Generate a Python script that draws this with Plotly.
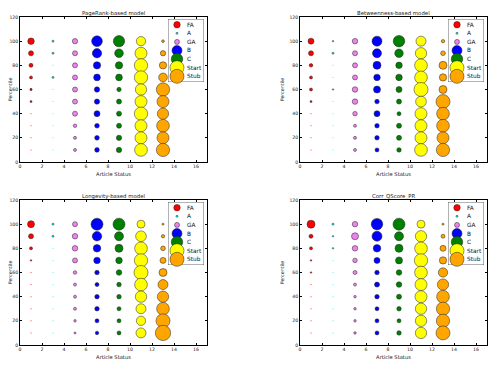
import plotly.graph_objects as go

# ---------------- data ----------------
percentiles = [100, 90, 80, 70, 60, 50, 40, 30, 20, 10]
statuses = ["FA", "A", "GA", "B", "C", "Start", "Stub"]
status_x = [1, 3, 5, 7, 9, 11, 13]
model_titles = ["PageRank-based model", "Betweenness-based model",
                "Longevity-based model", "Corr_QScore_PR"]
x_ticks = [0, 2, 4, 6, 8, 10, 12, 14, 16]
y_ticks = [0, 20, 40, 60, 80, 100, 120]

# marker diameters (px) per status, listed for percentiles 100 .. 10
pagerank_sizes = [
    [6.5, 5, 4, 3, 2.3, 2, 1, 1, 1, 1],                       # FA
    [2, 2, 1, 2, 1, 1, 1, 1, 1, 1],                           # A
    [5.3, 5, 5, 5, 5, 5, 5, 3.5, 3, 3],                       # GA
    [10.7, 9.3, 7.3, 6.7, 5.3, 5.3, 6, 4.7, 4.7, 4.7],        # B
    [11.3, 8.7, 7.3, 6.7, 4.3, 5, 5, 5, 5.3, 5.3],            # C
    [9.3, 12, 13.3, 13.3, 11.3, 12, 13.3, 12, 12, 12.7],      # Start
    [2.7, 5.3, 7.3, 8.7, 13.3, 12, 11.3, 12.7, 12, 13.3],     # Stub
]
betweenness_sizes = [
    [6, 5, 3.5, 3, 3, 2, 1, 1, 1, 1],
    [1.5, 2, 1, 1, 1.5, 1, 1, 1, 1, 1],
    [5.5, 5, 5, 5, 5.5, 5.5, 4.5, 3, 3, 3],
    [10, 9, 8, 6.5, 7, 4.5, 6, 4.5, 4.5, 4],
    [11.5, 8.5, 6.5, 6.5, 6, 5, 4, 5, 5, 4.5],
    [10, 11.3, 12.7, 12.7, 14, 10.7, 12, 12, 12, 12.7],
    [3.3, 4.7, 8, 7.3, 8, 14, 12.7, 12.7, 12, 13.3],
]
longevity_sizes = [
    [7, 5, 3, 1.5, 1, 1, 1, 1, 1, 1],
    [2, 2, 1, 1, 1, 1, 1, 1, 1, 1],
    [5, 5.5, 5.5, 5, 3.5, 3, 3, 3, 2.5, 2],
    [12, 9.5, 7.5, 6.5, 4.5, 4, 4.5, 4.5, 4, 3.5],
    [12, 9, 8, 6.5, 5.5, 4.5, 4.5, 4, 4, 4],
    [8, 10.7, 12.7, 13.3, 14, 12.7, 11.3, 10, 9.3, 10],
    [2, 3.3, 4.7, 6, 8, 10, 11.3, 12.7, 14, 15.3],
]
corr_sizes = [
    [8, 4, 3, 1.5, 1.5, 1, 1, 1, 1, 1],
    [2, 1.5, 1.5, 1, 1, 1, 1, 1, 1, 1],
    [5.5, 7, 5.5, 4.5, 4, 3, 2.5, 2.5, 2.5, 2.5],
    [11.5, 10, 7.5, 6, 4.5, 5, 4.5, 4, 4, 4],
    [12, 9, 8, 7, 5.5, 5.5, 5, 4.5, 4, 4.5],
    [8, 11.3, 12.7, 13.3, 12.7, 12, 12, 11.3, 11.3, 11.3],
    [2, 4, 6, 7.3, 9.3, 11.3, 12.7, 13.3, 13.3, 14],
]
all_sizes = [pagerank_sizes, betweenness_sizes, longevity_sizes, corr_sizes]

# ---------------- style ----------------
status_colors = ["#ff0000", "#00ffff", "#ee82ee", "#0000ff",
                 "#008000", "#ffff00", "#ffa500"]
legend_marker_sizes = [6.5, 2, 5, 10, 11.5, 14, 14]

# the page body has an 8px default margin: lay out in page pixels, shift by it
PAGE_OFF = 8
W, H = 500 - PAGE_OFF, 370 - PAGE_OFF
col_left = [20 - PAGE_OFF, 300 - PAGE_OFF]
row_top = [17 - PAGE_OFF, 200 - PAGE_OFF]
ax_w, ax_h = 187, 145
FONT = "DejaVu Sans"

fig = go.Figure()
layout = dict(template="none", width=W, height=H,
              margin=dict(l=0, r=0, t=0, b=0, autoexpand=False),
              paper_bgcolor="white", plot_bgcolor="white", showlegend=False,
              font=dict(family=FONT, color="black"))
shapes, annotations = [], []

axis_common = dict(showline=True, linecolor="black", linewidth=0.8,
                   mirror="ticks", ticks="inside", ticklen=2.5, tickwidth=0.6,
                   tickcolor="black", showgrid=False, zeroline=False,
                   automargin=False,
                   tickfont=dict(size=4.6, color="#222", family=FONT),
                   fixedrange=True)

for m in range(4):
    r, c = divmod(m, 2)
    left, top = col_left[c], row_top[r]
    xid, yid = m + 1, m + 1
    lxid, lyid = m + 5, m + 5
    xs = "" if xid == 1 else str(xid)
    ys = "" if yid == 1 else str(yid)

    layout["xaxis" + xs] = dict(
        axis_common, domain=[left / W, (left + ax_w) / W], range=[0, 17],
        tickvals=x_ticks, anchor="y" + ys,
        title=dict(text="Article Status", font=dict(size=5.2, color="#222"),
                   standoff=3))
    layout["yaxis" + ys] = dict(
        axis_common, domain=[1 - (top + ax_h) / H, 1 - top / H],
        range=[0, 120], tickvals=y_ticks, anchor="x" + xs,
        title=dict(text="Percentile", font=dict(size=4.8, color="#222"),
                   standoff=4))

    # legend axes
    layout["xaxis" + str(lxid)] = dict(
        domain=[(left + 148) / W, (left + 184) / W], range=[0, 36],
        visible=False, fixedrange=True, automargin=False,
        anchor="y" + str(lyid))
    layout["yaxis" + str(lyid)] = dict(
        domain=[1 - (top + 65) / H, 1 - (top + 2) / H], range=[63, 0],
        visible=False, fixedrange=True, automargin=False,
        anchor="x" + str(lxid))

    for k, status in enumerate(statuses):
        sizes = all_sizes[m][k]
        fig.add_trace(go.Scatter(
            x=[status_x[k]] * len(percentiles), y=percentiles,
            mode="markers", name=status, hoverinfo="skip",
            marker=dict(size=sizes, color=status_colors[k], opacity=1,
                        line=dict(width=[0.5 if s >= 1.5 else 0 for s in sizes],
                                  color="#222")),
            xaxis="x" + xs, yaxis="y" + ys, cliponaxis=False))

    # legend box
    shapes.append(dict(type="rect", xref="x" + str(lxid), yref="y" + str(lyid),
                       x0=0, x1=36, y0=0, y1=63, layer="below",
                       line=dict(color="#555", width=0.9), fillcolor="white"))
    leg_y = [5.7 + 8.6 * i for i in range(len(statuses))]
    fig.add_trace(go.Scatter(
        x=[9] * len(statuses), y=leg_y, mode="markers", hoverinfo="skip",
        marker=dict(size=legend_marker_sizes, color=status_colors, opacity=1,
                    line=dict(width=0.5, color="#222")),
        xaxis="x" + str(lxid), yaxis="y" + str(lyid), cliponaxis=False))
    for i, status in enumerate(statuses):
        annotations.append(dict(
            x=17.5, y=leg_y[i], xref="x" + str(lxid), yref="y" + str(lyid),
            text=status, showarrow=False, xanchor="left", yanchor="middle",
            borderpad=0, font=dict(size=5.8, color="#111", family=FONT)))

    # subplot title
    annotations.append(dict(
        x=(left + ax_w / 2) / W, y=1 - (top - 4) / H, xref="paper", yref="paper",
        text=model_titles[m], showarrow=False, xanchor="center",
        yanchor="middle", font=dict(size=5.4, color="#222", family=FONT)))

layout["shapes"] = shapes
layout["annotations"] = annotations
fig.update_layout(**layout)
fig.write_html("out.html")
